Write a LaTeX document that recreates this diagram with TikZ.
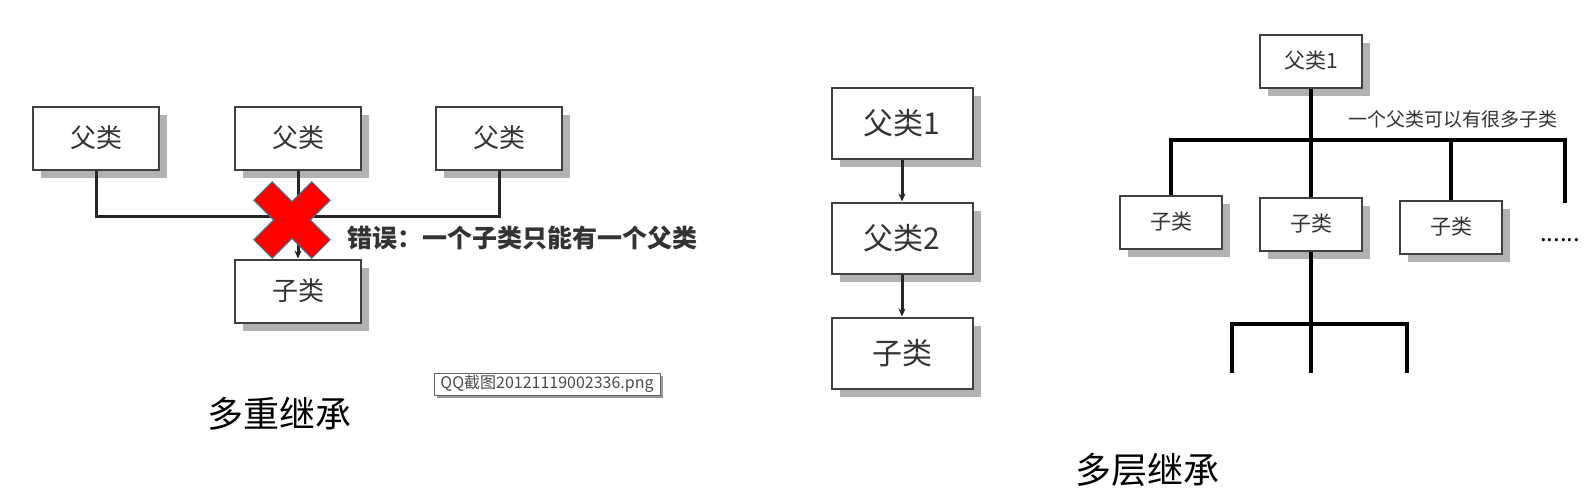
\documentclass[tikz,border=0pt]{standalone}
\usepackage{fontspec}
\newfontfamily\cjk{Noto Sans CJK SC}
\usetikzlibrary{shadows,arrows.meta,positioning}
\definecolor{crossedge}{RGB}{65,113,156}

\begin{document}
\begin{tikzpicture}[x=1pt,y=-1pt,
   every node/.style={font=\cjk},
   classbox/.style={draw=black!75,line width=2pt,fill=white,text=black!80,inner sep=0pt,
      drop shadow={shadow xshift=8pt,shadow yshift=-8pt,fill=black!30,opacity=1}},
   leftbox/.style={classbox,minimum width=126pt,minimum height=63pt,font=\cjk\fontsize{26}{30}\selectfont},
   midbox/.style={classbox,minimum width=141pt,minimum height=71pt,font=\cjk\fontsize{30}{34}\selectfont},
   rightbox/.style={classbox,minimum width=102pt,minimum height=53pt,font=\cjk\fontsize{21}{24}\selectfont},
   wire/.style={draw=black!85,line width=3pt},
   bus/.style={draw=black,line width=3.4pt},
   link/.style={wire,-{Stealth[length=8pt,width=7pt]}},
   title/.style={font=\cjk\fontsize{36}{40}\selectfont}]
\useasboundingbox (0,0) rectangle (1596,490);

% multiple inheritance
\node[leftbox] (p1) at (96,138) {父类};
\node[leftbox] (p2) at (298,138) {父类};
\node[leftbox] (p3) at (499,138) {父类};
\node[leftbox] (c) at (298,291) {子类};
\draw[wire] (p1.south) -- ++(0,46) -| (p3.south);
\draw[link] (p2) -- (c);
\begin{scope}[shift={(292,220)},rotate=45]
  \filldraw[fill=red,draw=crossedge,line width=1pt] (13,13) -- (41,13) -- (41,-13) -- (13,-13)
    -- (13,-41) -- (-13,-41) -- (-13,-13) -- (-41,-13) -- (-41,13) -- (-13,13)
    -- (-13,41) -- (13,41) -- cycle;
\end{scope}
\node[anchor=west,font=\cjk\bfseries\fontsize{25}{28}\selectfont,text=black!80] (err) at (344,238) {错误：一个子类只能有一个父类};
\node[draw=black!60,line width=0.6pt,fill=white,text=black!70,inner sep=0pt,
   minimum width=226pt,minimum height=22pt,font=\cjk\fontsize{16}{18}\selectfont,
   drop shadow={shadow xshift=3pt,shadow yshift=-3pt,fill=black!40,opacity=1}] (file) at (547,384) {QQ截图20121119002336.png};
\node[title] (multi) at (279,414) {多重继承};

% multilevel inheritance, chain
\node[midbox] (m1) at (902,123) {父类1};
\node[midbox,below=42pt of m1] (m2) {父类2};
\node[midbox,below=42pt of m2] (m3) {子类};
\draw[link] (m1) -- (m2);
\draw[link] (m2) -- (m3);

% multilevel inheritance, tree
\node[rightbox] (top) at (1311,61) {父类1};
\node[rightbox] (k1) at (1171,222) {子类};
\node[rightbox] (k2) at (1311,224) {子类};
\node[rightbox] (k3) at (1451,227) {子类};
\node[anchor=west,font=\cjk\fontsize{19}{22}\selectfont,text=black!80] (many) at (1345,119) {一个父类可以有很多子类};
\node[font=\cjk\fontsize{24}{26}\selectfont] (dots) at (1560,240) {......};
\coordinate (busend) at (1565,140);
\coordinate (more) at (1565,203);
\coordinate (fork) at (1311,324);
\coordinate (leg1) at (1232,373);
\coordinate (leg2) at (1311,373);
\coordinate (leg3) at (1407,373);
\draw[bus] (top) -- (k2);
\draw[bus] (k1.north) |- (busend) -- (more);
\draw[bus] (k3.north) -- (k3.north |- busend);
\draw[bus] (k2) -- (leg2);
\draw[bus] (leg1) |- (fork) -| (leg3);
\node[title] (multilevel) at (1147,470) {多层继承};
\end{tikzpicture}
\end{document}
